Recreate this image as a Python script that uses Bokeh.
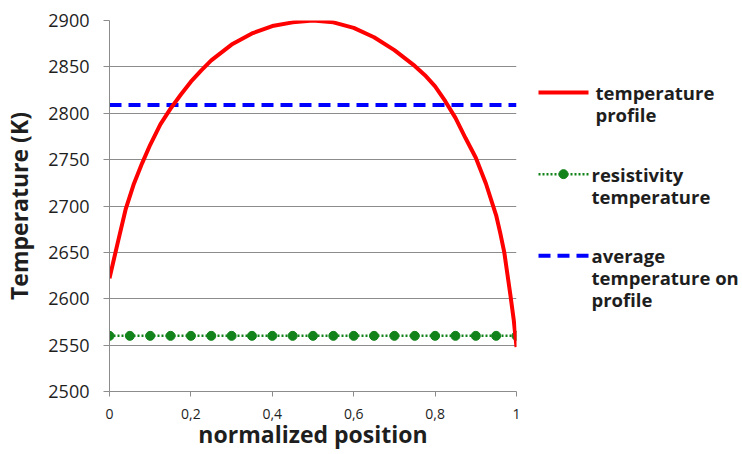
from bokeh.plotting import figure
from bokeh.models import Range1d, FixedTicker
from bokeh.layouts import row
from bokeh.core.properties import value
from bokeh.embed import file_html
from bokeh.resources import INLINE

# ---------------- data ----------------
POS = [0, 0.02, 0.04, 0.06, 0.08, 0.10, 0.125, 0.15, 0.175, 0.2, 0.225, 0.25, 0.3, 0.35,
       0.4, 0.45, 0.5, 0.55, 0.6, 0.65, 0.7, 0.75, 0.775, 0.8, 0.825, 0.85, 0.875, 0.9,
       0.925, 0.95, 0.96, 0.97, 0.985, 0.993, 1.0]
TEMP_PROFILE = [2622, 2660, 2697, 2724, 2746, 2766, 2788, 2805, 2820, 2834, 2846, 2857, 2874,
                2886, 2894, 2898, 2900, 2898, 2892, 2882, 2868, 2851, 2841, 2829, 2813, 2795,
                2773, 2752, 2724, 2690, 2671, 2650, 2604, 2578, 2548]

RES_POS = [0, 0.05, 0.1, 0.15, 0.2, 0.25, 0.3, 0.35, 0.4, 0.45, 0.5, 0.55, 0.6, 0.65, 0.7,
           0.75, 0.8, 0.85, 0.9, 0.95, 1.0]
RES_TEMP = [2560, 2560, 2560, 2560, 2560, 2560, 2560, 2560, 2560, 2560, 2560, 2560, 2560,
            2560, 2560, 2560, 2560, 2560, 2560, 2560, 2560]

AVG_POS = [0, 1]
AVG_TEMP = [2809, 2809]

X_TICKS = [0, 0.2, 0.4, 0.6, 0.8, 1]
X_TICK_LABELS = ["0", "0,2", "0,4", "0,6", "0,8", "1"]
Y_TICKS = [2500, 2550, 2600, 2650, 2700, 2750, 2800, 2850, 2900]

SERIES_NAMES = [["temperature", "profile"],
                ["resistivity", "temperature"],
                ["average", "temperature on", "profile"]]

# ---------------- styles ----------------
RED = "#ff0000"
GREEN = "#12821a"
BLUE = "#0000ff"
GRID = "#8c8c8c"
TXT = "#1e1e1e"
FONT = "Open Sans"

W, H = 742, 454
MAIN_W = 528

p = figure(width=MAIN_W, height=H, x_range=Range1d(0, 1), y_range=Range1d(2500, 2900),
           output_backend="svg", toolbar_location=None,
           min_border_left=109, min_border_right=12, min_border_top=20, min_border_bottom=63)
p.outline_line_color = None
p.xgrid.visible = False
p.ygrid.ticker = FixedTicker(ticks=Y_TICKS)
p.ygrid.grid_line_color = GRID
p.ygrid.grid_line_width = 1

p.xaxis.ticker = FixedTicker(ticks=X_TICKS)
p.xaxis.major_label_overrides = dict(zip(X_TICKS, X_TICK_LABELS))
p.yaxis.ticker = FixedTicker(ticks=Y_TICKS)

for ax in (p.xaxis[0], p.yaxis[0]):
    ax.axis_line_color = GRID
    ax.axis_line_width = 1
    ax.major_tick_line_color = GRID
    ax.major_tick_in = 0
    ax.minor_tick_line_color = None
    ax.major_label_text_font = FONT
    ax.major_label_text_color = TXT
    ax.axis_label_text_font = FONT
    ax.axis_label_text_font_size = "23px"
    ax.axis_label_text_font_style = "bold"
    ax.axis_label_text_color = TXT

p.xaxis.major_tick_out = 5
p.xaxis.major_label_text_font_size = "14px"
p.xaxis.major_label_standoff = 12
p.xaxis.axis_label = "normalized position"
p.xaxis.axis_label_standoff = -4

p.yaxis.major_tick_out = 6
p.yaxis.major_label_text_font_size = "18px"
p.yaxis.major_label_standoff = 14
p.yaxis.axis_label = "Temperature (K)"
p.yaxis.axis_label_standoff = 10

p.line(AVG_POS, AVG_TEMP, line_color=BLUE, line_width=4, line_dash="12 7")
p.line(RES_POS, RES_TEMP, line_color=GREEN, line_width=2.5, line_dash="2 2")
p.scatter(RES_POS, RES_TEMP, size=9, fill_color=GREEN, line_color=GREEN)
p.line(POS, TEMP_PROFILE, line_color=RED, line_width=4)

# ---------------- legend panel ----------------
LW = W - MAIN_W
q = figure(width=LW, height=H, x_range=Range1d(0, LW), y_range=Range1d(H, 0),
           output_backend="svg", toolbar_location=None, x_axis_type=None, y_axis_type=None,
           min_border_left=0, min_border_right=0, min_border_top=0, min_border_bottom=0)
q.outline_line_color = None
q.grid.visible = False

SAMPLE_X = [10, 60]
ROW_Y = [88, 188, 288]
TEXT_X = [67, 63, 63]
LINE_STEP = 27

q.line(SAMPLE_X, [ROW_Y[0]] * 2, line_color=RED, line_width=4)
q.line(SAMPLE_X, [ROW_Y[1]] * 2, line_color=GREEN, line_width=2.5, line_dash="2 2")
q.scatter([sum(SAMPLE_X) / 2], [ROW_Y[1]], size=9, fill_color=GREEN, line_color=GREEN)
q.line(SAMPLE_X, [ROW_Y[2]] * 2, line_color=BLUE, line_width=4, line_dash="12 7")

tx, ty, tt = [], [], []
for names, x0, y0 in zip(SERIES_NAMES, TEXT_X, ROW_Y):
    for i, n in enumerate(names):
        tx.append(x0)
        ty.append(y0 + i * LINE_STEP)
        tt.append(n)
q.text(tx, ty, text=tt, text_font=value(FONT), text_font_size=value("18.5px"),
       text_font_style="bold", text_color=TXT, text_baseline="middle", text_align="left")

layout = row(p, q)
open("out.html", "w").write(file_html(layout, INLINE))
